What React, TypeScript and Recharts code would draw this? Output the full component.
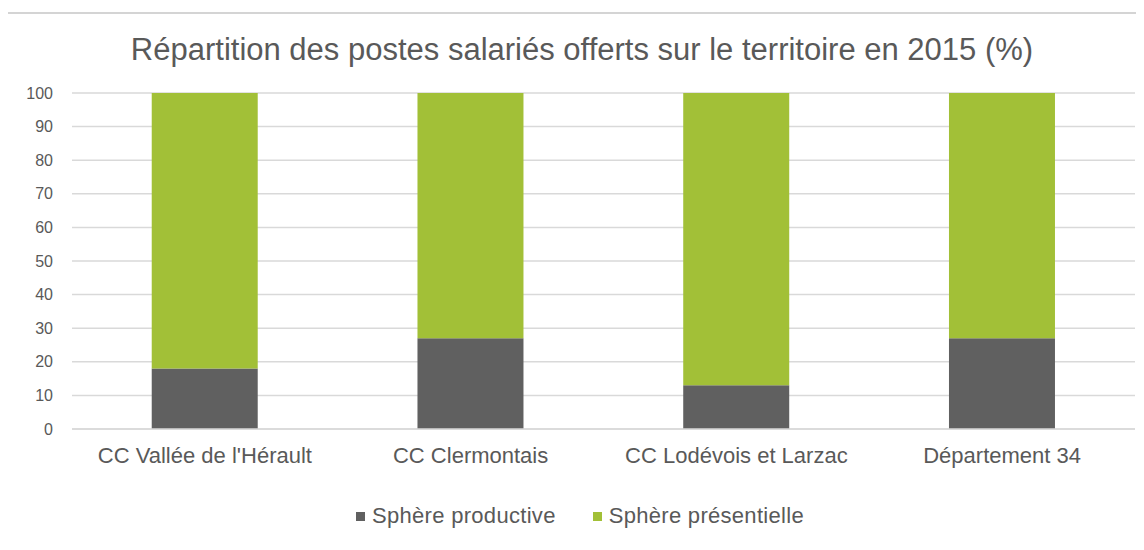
import { BarChart, Bar, XAxis, YAxis, CartesianGrid } from "recharts";

// Données
const territoires = [
  "CC Vallée de l'Hérault",
  "CC Clermontais",
  "CC Lodévois et Larzac",
  "Département 34",
];
const productive = [18, 27, 13, 27];
const presentielle = [82, 73, 87, 73];
const yTicks = [0, 10, 20, 30, 40, 50, 60, 70, 80, 90, 100];

const GRIS = "#606060";
const VERT = "#a2c037";
const TEXTE = "#595959";
const FONT = "'Liberation Sans', Arial, sans-serif";

const data = territoires.map((nom, i) => ({
  nom,
  productive: productive[i],
  presentielle: presentielle[i],
}));

const legendItems = [
  { label: "Sphère productive", color: GRIS },
  { label: "Sphère présentielle", color: VERT },
];

function Legende() {
  return (
    <div
      style={{
        position: "absolute",
        top: 505,
        left: 0,
        width: 1160,
        display: "flex",
        justifyContent: "center",
        gap: 37,
        fontFamily: FONT,
        fontSize: 22,
        lineHeight: 1,
        letterSpacing: 0.3,
        color: TEXTE,
      }}
    >
      {legendItems.map((it) => (
        <div key={it.label} style={{ display: "flex", alignItems: "center" }}>
          <span
            style={{
              display: "inline-block",
              width: 9,
              height: 9,
              background: it.color,
              marginRight: 7,
            }}
          />
          {it.label}
        </div>
      ))}
    </div>
  );
}

export default function App() {
  return (
    <div
      style={{
        position: "relative",
        width: 1144,
        height: 550,
        margin: -8,
        overflow: "hidden",
        background: "#fff",
      }}
    >
      <svg
        width={1144}
        height={550}
        style={{ position: "absolute", left: 0, top: 0 }}
      >
        {/* cadre du graphique */}
        <path d="M6,550 L6,13 L1144,13" fill="none" stroke="#d4d4d4" strokeWidth={2} />
      </svg>
      <div
        style={{
          position: "absolute",
          top: 34,
          left: 0,
          width: 1164,
          textAlign: "center",
          fontFamily: FONT,
          fontSize: 31,
          lineHeight: 1,
          color: TEXTE,
        }}
      >
        Répartition des postes salariés offerts sur le territoire en 2015 (%)
      </div>
      <div style={{ position: "absolute", left: 0, top: 0 }}>
        <BarChart
          width={1144}
          height={550}
          data={data}
          margin={{ top: 93, right: 9, bottom: 91, left: 0 }}
          barCategoryGap="30%"
        >
          <CartesianGrid vertical={false} stroke="#d9d9d9" strokeWidth={1.5} />
          <XAxis
            dataKey="nom"
            height={30}
            axisLine={{ stroke: "#d9d9d9", strokeWidth: 1.5 }}
            tickLine={false}
            tickSize={0}
            tickMargin={18}
            tick={{ fill: TEXTE, fontSize: 22, fontFamily: FONT }}
            interval={0}
          />
          <YAxis
            width={72}
            domain={[0, 100]}
            ticks={yTicks}
            axisLine={false}
            tickLine={false}
            tickSize={0}
            tickMargin={19}
            tick={{ fill: TEXTE, fontSize: 16, fontFamily: FONT }}
          />
          <Bar
            dataKey="productive"
            stackId="a"
            fill={GRIS}
            isAnimationActive={false}
          />
          <Bar
            dataKey="presentielle"
            stackId="a"
            fill={VERT}
            isAnimationActive={false}
          />
        </BarChart>
      </div>
      <Legende />
    </div>
  );
}
